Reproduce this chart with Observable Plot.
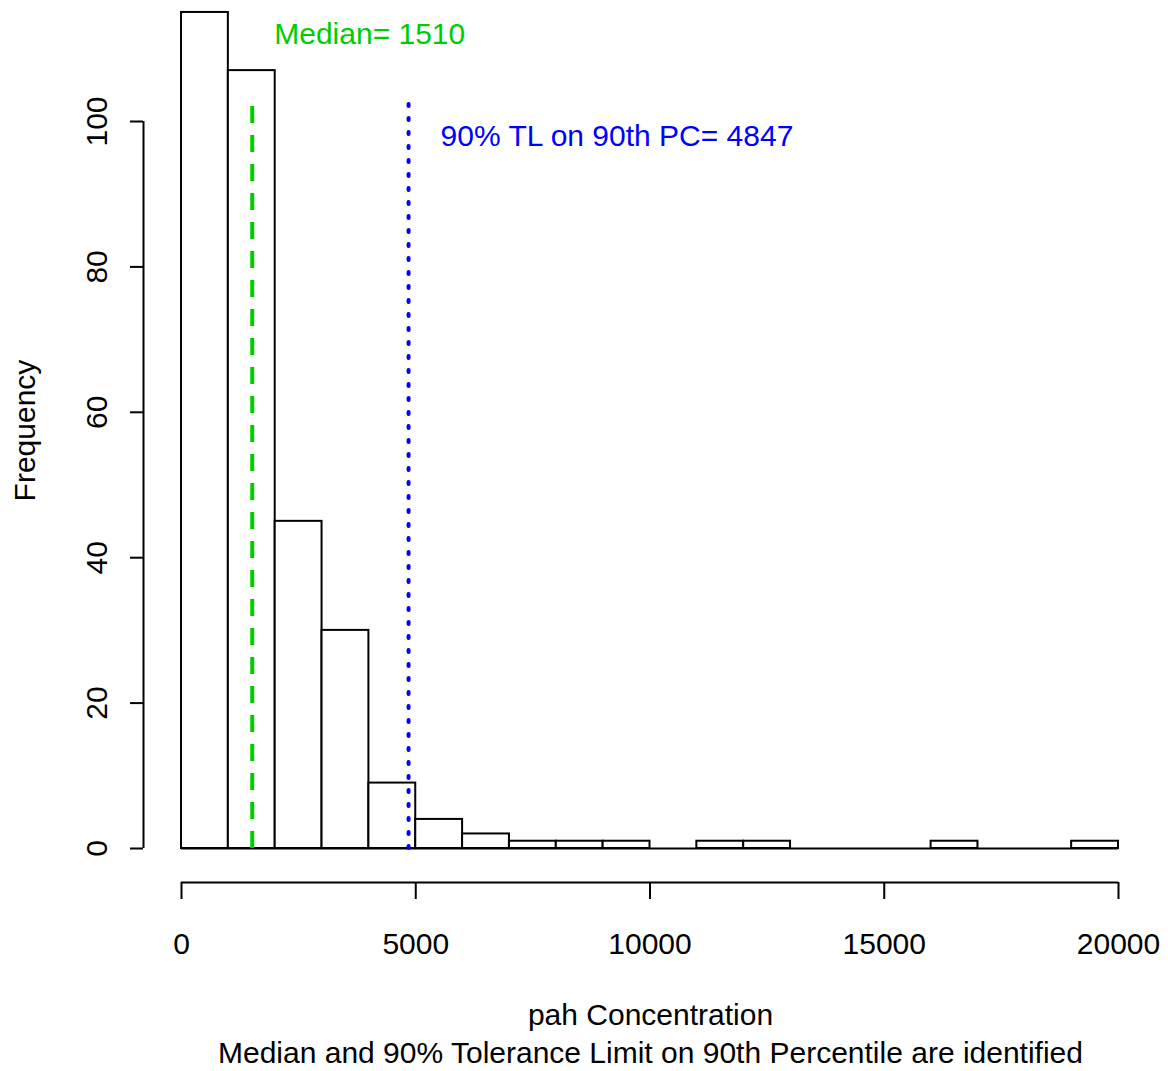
<!DOCTYPE html>
<html>
<head>
<meta charset="utf-8">
<script src="https://cdn.jsdelivr.net/npm/d3@7"></script>
<script src="https://cdn.jsdelivr.net/npm/@observablehq/plot@0.6"></script>
<style>
  html, body { margin: 0; padding: 0; background: #fff; }
  #chart svg { display: block; }
</style>
</head>
<body>
<div id="chart"></div>
<script>
// Histogram of pah concentrations, 1000-wide bins
const binEdges = [0, 1000, 2000, 3000, 4000, 5000, 6000, 7000, 8000, 9000, 10000,
                  11000, 12000, 13000, 14000, 15000, 16000, 17000, 18000, 19000, 20000];
const counts = [115, 107, 45, 30, 9, 4, 2, 1, 1, 1, 0, 1, 1, 0, 0, 0, 1, 0, 0, 1];

const xTicks = [0, 5000, 10000, 15000, 20000];
const yTicks = [0, 20, 40, 60, 80, 100];

// Reference statistics
const medianValue = 1510;
const tlValue = 4847;
const refLineTop = 103;
const medianLabelY = 112;
const tlLabelY = 98;

const xLabel = "pah Concentration";
const subLabel = "Median and 90% Tolerance Limit on 90th Percentile are identified";
const yLabel = "Frequency";

const bars = counts.map((n, i) => ({ x1: binEdges[i], x2: binEdges[i + 1], n }));

const FONT = "'Liberation Sans', Arial, Helvetica, sans-serif";
const GREEN = "#00CD00";
const BLUE = "#0000FF";

const chart = Plot.plot({
  width: 1168,
  height: 1071,
  marginLeft: 143,
  marginRight: 11,
  marginTop: 0,
  marginBottom: 189,
  style: { fontFamily: FONT, fontSize: "30px", background: "white", color: "black", overflow: "visible" },
  x: { domain: [0, 20000], range: [181, 1118] },
  y: { domain: [0, 100], range: [848, 121] },
  marks: [
    // bars (empty bins show only as the baseline)
    Plot.rect(bars, { x1: "x1", x2: "x2", y1: 0, y2: "n", fill: "white", stroke: "black", strokeWidth: 2 }),
    Plot.ruleY([0], { x1: binEdges[0], x2: binEdges[binEdges.length - 1], strokeWidth: 2 }),

    // reference lines
    Plot.ruleX([medianValue], { y1: 0, y2: refLineTop, stroke: GREEN, strokeWidth: 4, strokeDasharray: "17,12" }),
    Plot.ruleX([tlValue], { y1: 0, y2: refLineTop, stroke: BLUE, strokeWidth: 4, strokeDasharray: "2,12", strokeLinecap: "round" }),

    // annotations
    Plot.text([medianValue], { x: d => d, y: medianLabelY, text: d => `Median= ${d}`, textAnchor: "start", dx: 22, fill: GREEN, lineAnchor: "middle" }),
    Plot.text([tlValue], { x: d => d, y: tlLabelY, text: d => `90% TL on 90th PC= ${d}`, textAnchor: "start", dx: 32, fill: BLUE, lineAnchor: "middle" }),

    // x axis (detached, below the bars)
    Plot.ruleY([0], { x1: xTicks[0], x2: xTicks[xTicks.length - 1], dy: 34, strokeWidth: 2 }),
    Plot.axisX({ ticks: xTicks, tickSize: 17, tickPadding: 33, strokeWidth: 2, tickFormat: d => String(d), label: null }),

    // y axis
    Plot.ruleX([0], { y1: yTicks[0], y2: yTicks[yTicks.length - 1], dx: -38, strokeWidth: 2 }),
    Plot.axisY({ ticks: yTicks, tickSize: 13, strokeWidth: 2, tickFormat: () => "", label: null }),
    Plot.text(yTicks, { y: d => d, text: d => String(d), frameAnchor: "left", textAnchor: "middle", dx: -46, rotate: -90, lineAnchor: "middle" }),

    // axis titles
    Plot.text([yLabel], { text: d => d, frameAnchor: "left", textAnchor: "middle", dx: -118, dy: -11, rotate: -90, lineAnchor: "middle" }),
    Plot.text([xLabel], { text: d => d, frameAnchor: "bottom", textAnchor: "middle", dy: 133, lineAnchor: "middle" }),
    Plot.text([subLabel], { text: d => d, frameAnchor: "bottom", textAnchor: "middle", dy: 171, lineAnchor: "middle" })
  ]
});

document.getElementById("chart").appendChild(chart);
</script>
</body>
</html>
